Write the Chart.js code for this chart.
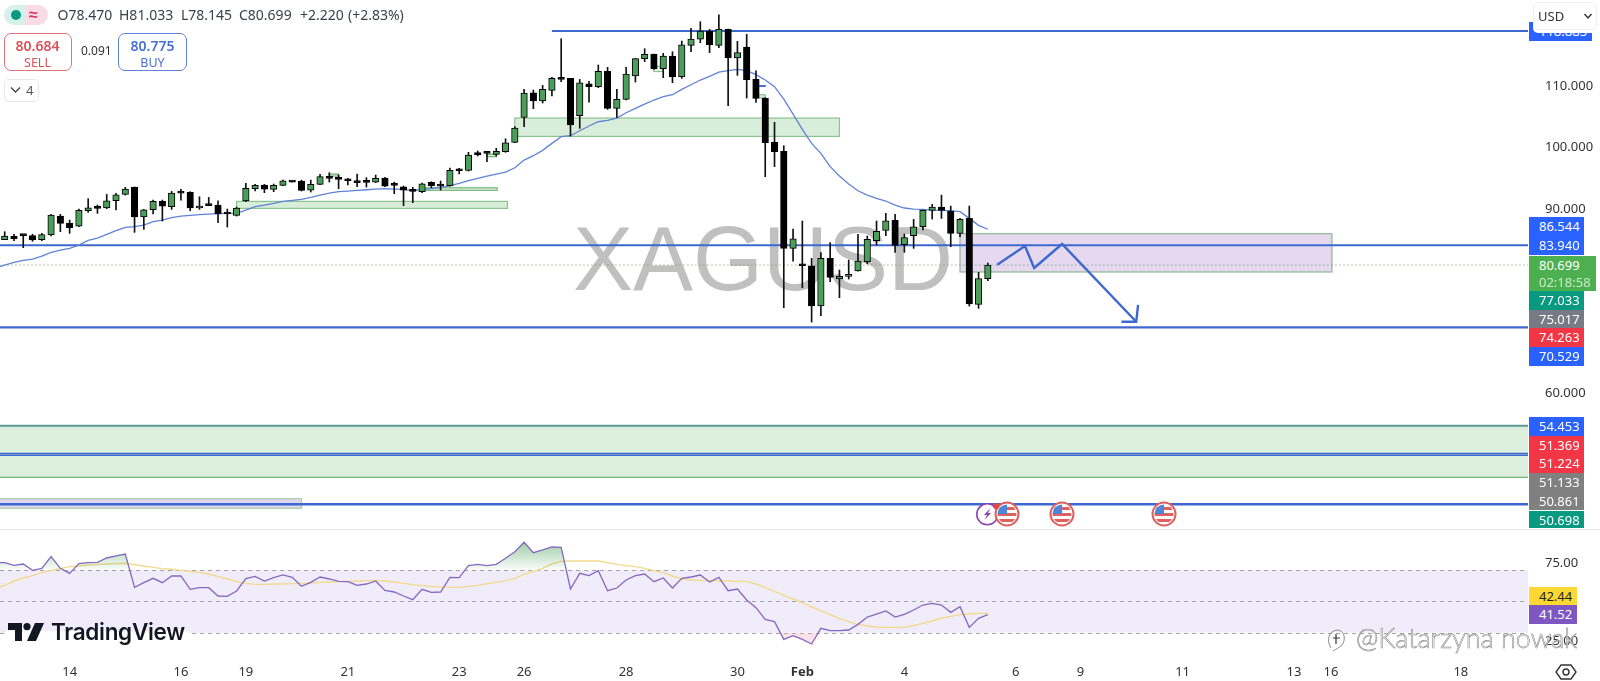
<!DOCTYPE html>
<html>
<head>
<meta charset="utf-8">
<title>XAGUSD</title>
<script src="https://cdn.jsdelivr.net/npm/chart.js@4"></script>
<style>
    html, body { margin: 0; padding: 0; background: #fff; overflow: hidden; }
    body { width: 1600px; height: 681px; position: relative; font-family: "Noto Sans", sans-serif; color: #333; }
    canvas { position: absolute; left: 0; }
    #mainChart { top: 0; }
    #rsiChart { top: 529px; }
    .abs { position: absolute; white-space: nowrap; }
    #symbol { left: 573px; top: 208px; font: 90px "Liberation Sans", sans-serif; color: #c0c0c0; line-height: 103px; }
    #separator { left: 0; top: 529px; width: 1600px; height: 1px; background: #e6e6e6; }
    .ohlc { top: 5px; font-size: 14px; line-height: 20px; color: #3c404c; }
    .box { box-sizing: border-box; background: #fff; text-align: center; }
    .box b { display: block; font-size: 14px; line-height: 19px; margin-top: 2px; font-weight: 600; }
    .box span { display: block; font-size: 12.5px; line-height: 15px; }
    .tag { left: 1529px; width: 55px; height: 18.7px; line-height: 18.7px; color: #fff; font-size: 13px; padding-left: 10px; box-sizing: border-box; }
    #logoText { left: 51px; top: 617px; font: 600 22.5px/30px Inter, sans-serif; color: #131722; letter-spacing: -0.3px; }
    #credit { left: 1356px; top: 621px; font: 300 27px/34px Lato, sans-serif; color: #fff; -webkit-text-stroke: 0.6px #8c8c8c; }
</style>
</head>
<body>
<div class="abs" id="symbol">XAGUSD</div>
<canvas id="mainChart" width="1600" height="529"></canvas>
<canvas id="rsiChart" width="1600" height="152"></canvas>
<div class="abs" id="separator"></div>

<div class="abs" style="left:4px;top:4.5px;width:22px;height:20px;background:#d6f0ea;border-radius:10px 0 0 10px"></div>
<div class="abs" style="left:26px;top:4.5px;width:22px;height:20px;background:#fbdbe6;border-radius:0 10px 10px 0"></div>
<div class="abs" style="left:11px;top:9.5px;width:10px;height:10px;background:#089981;border-radius:50%"></div>
<div class="abs" style="left:29px;top:3px;font-size:16px;line-height:22px;font-weight:700;color:#d8326f">≈</div>
<div class="abs ohlc" style="left:57.5px">O78.470</div>
<div class="abs ohlc" style="left:119px">H81.033</div>
<div class="abs ohlc" style="left:181px">L78.145</div>
<div class="abs ohlc" style="left:239px">C80.699</div>
<div class="abs ohlc" style="left:300px">+2.220</div>
<div class="abs ohlc" style="left:348px">(+2.83%)</div>

<div class="abs box" style="left:3.5px;top:32.5px;width:68px;height:38px;border:1px solid #e0747c;border-radius:7px;color:#d9505a"><b>80.684</b><span>SELL</span></div>
<div class="abs" style="left:81px;top:43px;font-size:12px;line-height:16px">0.091</div>
<div class="abs box" style="left:118px;top:32.5px;width:69px;height:38px;border:1px solid #5f82d8;border-radius:7px;color:#4a6fd4"><b>80.775</b><span>BUY</span></div>

<div class="abs" style="left:3.5px;top:78.5px;width:35px;height:23px;box-sizing:border-box;border:1px solid #e8e8e8;border-radius:4px"></div>
<svg class="abs" style="left:10px;top:86px" width="12" height="8"><path d="M1 1.5 L5.5 6 L10 1.5" fill="none" stroke="#444" stroke-width="1.3"/></svg>
<div class="abs" style="left:26px;top:80px;font-size:13px;line-height:20px;color:#555">4</div>

<div class="abs" style="left:6px;top:631px;width:182px;height:4px;background:#fff"></div>
<svg class="abs" style="left:8px;top:623px" width="36" height="18" viewBox="0 0 36 18">
    <path d="M0 0h14v18H7V7H0z" fill="#131722"/><circle cx="19" cy="3.6" r="3.6" fill="#131722"/><path d="M27 0h9l-8 18h-9z" fill="#131722"/>
</svg>
<div class="abs" id="logoText">TradingView</div>

<svg class="abs" style="left:975px;top:500px" width="40" height="30">
    <circle cx="12.3" cy="14.3" r="10.5" fill="#fff" stroke="#8e44ad" stroke-width="1.6"/>
    <path d="M15.5 8 L9 15 L12 15 L9.5 20 L16 13 L13 13 Z" fill="#8e44ad"/>
</svg>
<div id="flags"></div>
<div class="abs" style="left:993px;top:503px;width:6px;height:6px;border-radius:50%;background:#e04848;z-index:2"></div>

<div class="abs" style="left:1327px;top:628px;width:18px;height:18px">
    <svg width="20" height="24"><path d="M4 20 C-1 12 2 3 10 2 C18 2 19 12 15 17 C12 20 9 21 6 23" fill="none" stroke="#8c8c8c" stroke-width="1"/><path d="M6 10 H13 M9 6 V16" fill="none" stroke="#333" stroke-width="1.2"/></svg>
</div>
<div class="abs" id="credit">@Katarzyna nowak</div>

<svg class="abs" style="left:1555px;top:663px" width="22" height="18">
    <path d="M6 2 H16 L21 9 L16 16 H6 L1 9 Z" fill="none" stroke="#333" stroke-width="1.4"/><circle cx="11" cy="9" r="3" fill="none" stroke="#333" stroke-width="1.4"/>
</svg>

<script>
// candles, oldest first
const highs = [
    86.14, 85.71, 85.60, 85.71, 85.87, 88.96, 88.96, 88.04, 89.83, 91.52,
    90.49, 92.22, 92.39, 93.37, 93.42, 89.78, 91.30, 91.30, 92.71, 93.04,
    92.66, 91.84, 91.73, 91.19, 89.83, 90.16, 94.02, 93.85, 93.85, 93.91,
    94.56, 94.40, 94.56, 94.56, 95.49, 95.76, 95.38, 94.84, 95.54, 94.95,
    95.38, 95.00, 94.23, 93.58, 93.37, 94.07, 94.29, 94.40, 96.52, 96.47,
    99.08, 99.30, 99.03, 99.73, 101.30, 103.26, 109.35, 109.24, 110.00, 111.30,
    117.61, 111.14, 110.97, 110.65, 113.32, 112.94, 109.35, 112.94, 114.40, 115.98,
    115.11, 115.22, 115.49, 117.23, 119.29, 120.38, 119.13, 121.52, 119.18, 117.18,
    118.32, 112.39, 107.99, 103.97, 100.16, 86.57, 87.88, 81.79, 82.72, 84.35,
    79.89, 81.52, 85.71, 85.43, 87.88, 89.13, 88.96, 85.76, 88.15, 89.67,
    90.59, 92.11, 90.32, 88.31, 90.32, 79.51, 81.033
];
const opens = [
    84.84, 85.38, 85.60, 85.49, 84.84, 85.60, 88.69, 87.55, 87.06, 89.56,
    90.10, 90.00, 91.19, 92.22, 93.42, 88.53, 89.72, 91.08, 90.21, 92.55,
    92.55, 90.00, 90.43, 90.49, 89.13, 88.80, 91.14, 93.15, 93.75, 93.04,
    93.69, 94.40, 94.40, 92.93, 93.85, 95.16, 94.84, 94.56, 94.45, 94.34,
    94.23, 94.89, 93.80, 93.47, 93.04, 92.66, 94.18, 93.75, 93.64, 96.19,
    96.14, 99.03, 98.97, 98.75, 99.19, 100.71, 104.78, 108.80, 107.45, 109.19,
    111.08, 111.14, 105.05, 110.27, 109.78, 112.28, 106.25, 107.72, 111.52, 114.35,
    115.05, 112.72, 114.78, 111.41, 116.52, 117.55, 118.86, 116.52, 119.13, 114.46,
    116.25, 110.97, 107.88, 100.71, 99.24, 83.42, 80.70, 80.59, 74.02, 81.79,
    78.42, 78.86, 79.75, 81.27, 84.67, 86.35, 87.99, 84.02, 85.49, 86.95,
    89.62, 90.16, 89.45, 85.87, 88.31, 74.29, 78.47
];
const closes = [
    85.43, 85.00, 85.49, 84.78, 85.65, 88.85, 87.50, 86.79, 89.62, 90.05,
    89.94, 91.19, 92.17, 93.09, 88.53, 89.72, 91.08, 90.32, 92.44, 92.44,
    90.00, 90.32, 90.38, 89.02, 89.02, 90.00, 93.20, 93.69, 93.09, 93.69,
    94.45, 94.23, 92.88, 93.85, 95.11, 94.84, 94.67, 94.45, 94.13, 94.18,
    94.84, 93.58, 93.69, 92.93, 92.71, 93.96, 93.64, 93.58, 96.14, 96.08,
    98.65, 98.65, 98.92, 99.24, 100.65, 103.04, 108.75, 107.45, 109.35, 111.14,
    110.97, 103.53, 110.43, 109.78, 112.28, 106.25, 107.72, 111.85, 114.35, 115.05,
    112.72, 114.78, 111.36, 116.63, 117.55, 118.86, 116.63, 119.13, 114.46, 115.33,
    110.92, 107.88, 100.65, 99.19, 83.42, 84.99, 80.59, 74.02, 81.79, 78.69,
    78.86, 79.18, 81.33, 84.89, 86.20, 87.93, 83.91, 85.17, 86.95, 89.62,
    90.16, 89.62, 85.87, 88.15, 74.35, 78.48, 80.699
];
const lows = [
    84.84, 84.67, 83.53, 84.57, 84.67, 85.43, 86.14, 85.87, 86.95, 89.29,
    89.13, 89.89, 89.67, 92.11, 86.03, 86.52, 89.02, 87.88, 89.78, 91.30,
    89.56, 89.78, 90.38, 87.60, 86.90, 88.69, 91.03, 92.77, 92.50, 92.66,
    93.64, 94.23, 92.77, 92.61, 93.80, 94.23, 93.15, 93.75, 93.47, 93.42,
    94.13, 93.47, 92.33, 90.38, 90.87, 92.50, 93.31, 92.93, 93.58, 95.54,
    96.03, 98.48, 97.57, 98.48, 99.08, 100.65, 103.26, 106.20, 107.12, 108.27,
    110.59, 101.73, 102.99, 107.28, 109.62, 106.09, 104.78, 107.61, 110.54, 113.86,
    112.61, 111.25, 110.43, 111.14, 115.49, 116.96, 115.33, 116.14, 106.68, 111.63,
    107.93, 107.23, 95.11, 96.74, 73.75, 81.35, 77.01, 71.41, 72.45, 77.98,
    75.38, 78.42, 79.70, 80.89, 83.96, 85.49, 82.77, 82.77, 83.42, 86.41,
    88.20, 88.31, 83.69, 85.33, 74.02, 73.64, 78.145
];
const emaValues = [
    80.70, 81.14, 81.46, 81.68, 82.17, 82.77, 83.15, 83.42, 83.96, 84.72,
    85.10, 85.70, 86.30, 86.84, 86.95, 87.22, 87.77, 88.04, 88.42, 88.69,
    88.80, 88.91, 89.02, 89.07, 89.13, 89.13, 89.67, 90.21, 90.48, 90.76,
    91.08, 91.25, 91.41, 91.73, 92.11, 92.44, 92.66, 92.77, 92.88, 92.98,
    93.09, 93.15, 93.09, 93.04, 92.82, 93.04, 93.15, 93.31, 93.64, 94.02,
    94.45, 94.83, 95.21, 95.54, 95.87, 96.57, 97.82, 98.53, 99.40, 100.54,
    101.63, 101.79, 102.60, 103.37, 104.07, 104.29, 104.67, 105.54, 106.25, 106.95,
    107.61, 108.15, 108.47, 109.34, 110.10, 110.87, 111.46, 112.17, 112.39, 112.60,
    112.39, 111.74, 110.87, 109.78, 107.77, 105.32, 102.82, 100.54, 98.91, 96.74,
    95.21, 93.91, 92.82, 92.11, 91.57, 91.14, 90.48, 90.00, 89.83, 89.78,
    89.67, 89.62, 89.56, 89.40, 88.31, 87.17, 86.54
];
const rsiValues = [
    74.68, 72.98, 73.83, 69.79, 71.06, 78.51, 71.06, 67.87, 74.04, 74.68,
    74.89, 77.66, 78.94, 80.21, 58.94, 61.91, 64.68, 61.91, 66.17, 66.17,
    57.66, 58.72, 58.72, 53.40, 53.19, 56.60, 64.47, 65.96, 62.98, 65.11,
    66.81, 65.32, 59.57, 62.13, 65.53, 64.26, 62.77, 62.55, 60.21, 61.06,
    62.98, 57.02, 55.96, 53.40, 51.06, 57.66, 55.74, 55.96, 65.32, 65.11,
    72.77, 73.62, 72.77, 73.62, 77.45, 81.70, 87.66, 81.06, 82.77, 84.68,
    84.47, 57.87, 67.87, 66.38, 69.57, 56.81, 58.51, 63.62, 66.38, 67.45,
    62.55, 64.89, 58.51, 64.68, 65.53, 66.81, 62.34, 65.32, 56.81, 57.87,
    50.85, 45.96, 38.51, 37.02, 25.74, 28.09, 25.74, 22.77, 32.77, 31.28,
    31.28, 31.70, 35.32, 40.00, 41.91, 43.83, 40.00, 41.70, 44.47, 47.66,
    48.72, 47.66, 42.98, 46.60, 33.40, 39.15, 41.52
];
const rsiMaValues = [
    60.21, 62.98, 64.89, 66.38, 68.30, 69.79, 70.85, 72.13, 72.55, 73.19,
    73.40, 73.83, 74.04, 74.26, 73.40, 72.55, 71.70, 70.85, 70.43, 69.79,
    69.15, 68.51, 67.45, 65.74, 64.26, 62.55, 61.49, 60.85, 60.85, 61.06,
    61.06, 61.28, 61.28, 61.70, 62.13, 62.34, 62.55, 62.77, 62.98, 63.19,
    63.40, 62.98, 62.34, 61.49, 60.64, 60.00, 59.57, 59.15, 58.94, 58.94,
    59.57, 60.21, 61.28, 62.13, 63.19, 64.68, 67.23, 68.94, 71.06, 73.83,
    75.53, 75.74, 75.74, 75.74, 75.74, 74.68, 73.62, 72.77, 72.13, 71.06,
    69.57, 68.30, 66.17, 64.26, 63.62, 63.40, 63.19, 62.98, 62.98, 62.77,
    62.55, 61.06, 58.72, 56.38, 53.83, 51.49, 49.15, 46.38, 44.04, 41.49,
    38.94, 37.02, 35.32, 34.26, 33.62, 33.40, 33.40, 33.40, 34.68, 35.96,
    37.45, 39.36, 40.43, 41.49, 41.91, 42.34, 42.44
];
// the lines carry on past the left edge, one bar before the first candle
const emaBefore = 80.25;
const rsiBefore = 74.68;
const rsiMaBefore = 58.4;

// axes
const priceTicks = [110, 100, 90, 60];
const rsiTicks = [75, 25];
const timeTickIndex = [7, 19, 26, 37, 49, 56, 67, 79, 86, 97, 109, 116, 127, 139, 143, 157];
const timeTickLabels = ['14', '16', '19', '21', '23', '26', '28', '30', 'Feb', '4', '6', '9', '11', '13', '16', '18'];

// drawn levels and boxes, in candle index and price
const levelPrices = [118.885, 83.94, 70.529, 49.98, 49.69, 41.69, 54.5];
const levelStarts = [59, -1, -1, -1, -1, -1, -1];
const zoneStarts = [-1, -1, 55, 25, 45, 103, 35, 52, 70, 81, 81];
const zoneEnds = [170, 32, 90, 54.2, 53.1, 143.1, 36, 53, 71, 82, 82];
const zoneTops = [54.5, 42.6, 104.67, 91.08, 93.31, 85.81, 95.54, 98.75, 113.1, 108.47, 109.95];
const zoneBottoms = [46.09, 41.03, 101.68, 89.94, 92.88, 79.57, 95.21, 98.37, 112.26, 107.99, 109.85];
const pathIndex = [107, 110, 111, 114, 122];
const pathPrices = [80.76, 83.81, 80.22, 84.13, 71.46];
const arrowHeadIndex = [122.2, 122, 120.4];
const arrowHeadPrices = [74.19, 71.46, 71.46];
const lastPrice = 80.699;

// price tags on the right, top to bottom
const mainTags = ['86.544', '83.940', '77.033', '75.017', '74.263', '70.529', '54.453', '51.369', '51.224', '51.133', '50.861', '50.698'];
const rsiTags = ['42.44', '41.52'];

// scale limits picked so the price and rsi panes line up with the screenshot
const X_MIN = -0.507, X_MAX = 164.24;

function addTag(text, top, bg, extra) {
    const el = document.createElement('div');
    el.className = 'abs tag';
    el.style.top = top + 'px';
    el.style.background = bg;
    el.textContent = text;
    if (extra) Object.assign(el.style, extra);
    document.body.appendChild(el);
    return el;
}

function addFlag(cx) {
    const el = document.createElement('div');
    el.className = 'abs';
    el.style.left = (cx - 13) + 'px';
    el.style.top = '501px';
    el.innerHTML = '<svg width="26" height="26"><defs><clipPath id="f' + cx + '"><circle cx="13" cy="13" r="9.5"/></clipPath></defs>'
        + '<circle cx="13" cy="13" r="11.5" fill="#fff" stroke="#e0605f" stroke-width="2"/>'
        + '<g clip-path="url(#f' + cx + ')"><rect x="3" y="3" width="20" height="20" fill="#fff"/>'
        + '<rect x="3" y="6" width="20" height="3" fill="#e0605f"/><rect x="3" y="12" width="20" height="3" fill="#e0605f"/><rect x="3" y="18" width="20" height="3" fill="#e0605f"/>'
        + '<rect x="3" y="3" width="10" height="10" fill="#4f86d9"/></g></svg>';
    document.getElementById('flags').appendChild(el);
}

// level boxes go under the candles
const zonePlugin = {
    id: 'zones',
    beforeDatasetsDraw(chart) {
        const { ctx, scales: { x, y }, chartArea } = chart;
        const fills = ['#dcefdc', '#ded6ee', '#d9eeda', '#d9eeda', '#cfe8d0', '#e6d8ef', '#e4f3e4', '#e4f3e4', '#e4f3e4', '#d9eeda', '#3c68d0'];
        const edges = ['#6cad71', '#a9cfaa', '#8cc38f', '#8cc38f', '#7fbb83', '#8fb893', '#6cad71', '#6cad71', '#8cc38f', '#8cc38f', '#3c68d0'];
        ctx.save();
        ctx.beginPath();
        ctx.rect(chartArea.left, chartArea.top, chartArea.width, chartArea.height);
        ctx.clip();
        zoneStarts.forEach((start, i) => {
            const left = x.getPixelForValue(start);
            const right = x.getPixelForValue(zoneEnds[i]);
            const top = y.getPixelForValue(zoneTops[i]);
            const bottom = y.getPixelForValue(zoneBottoms[i]);
            ctx.fillStyle = fills[i];
            ctx.strokeStyle = edges[i];
            ctx.lineWidth = 1.2;
            ctx.fillRect(left, top, right - left, bottom - top);
            ctx.strokeRect(left, top, right - left, bottom - top);
        });
        ctx.restore();
    }
};

// rsi band and dashed 70/50/30 lines
const bandPlugin = {
    id: 'band',
    beforeDatasetsDraw(chart) {
        const { ctx, scales: { y }, chartArea } = chart;
        const y70 = y.getPixelForValue(70);
        const y30 = y.getPixelForValue(30);
        ctx.save();
        ctx.fillStyle = '#f0ecfa';
        ctx.fillRect(chartArea.left, y70, chartArea.width, y30 - y70);
        ctx.strokeStyle = '#a3a3a8';
        ctx.lineWidth = 1;
        ctx.setLineDash([4, 4]);
        [70, 50, 30].forEach(v => {
            const p = Math.round(y.getPixelForValue(v)) + 0.5;
            ctx.beginPath();
            ctx.moveTo(chartArea.left, p);
            ctx.lineTo(chartArea.right, p);
            ctx.stroke();
        });
        ctx.restore();
    }
};

function pairs(xs, ys) {
    return xs.map((x, i) => ({ x, y: ys[i] }));
}

function lineFrom(before, values) {
    return [{ x: -1, y: before }, ...values.map((y, x) => ({ x, y }))];
}

// stop the axes reserving room for half a label above and below the plot
function noScalePadding(scale) {
    scale.paddingTop = 0;
    scale.paddingBottom = 0;
    scale.paddingLeft = 0;
    scale.paddingRight = 0;
}

document.addEventListener('DOMContentLoaded', () => {

    Chart.defaults.font.family = '"Noto Sans", sans-serif';
    Chart.defaults.font.size = 13;
    Chart.defaults.color = '#333';

    const candleFill = closes.map((c, i) => c >= opens[i] ? '#4c9f5a' : '#000');
    const levelColors = ['#3c68d0', '#3c68d0', '#3c68d0', '#3c68d0', '#3c68d0', '#3c68d0', '#5f9a98'];
    const levelWidths = [2, 2, 2.2, 1.4, 1.4, 2.5, 1.8];

    const levelSets = levelPrices.map((price, i) => ({
        type: 'line',
        data: [{ x: levelStarts[i], y: price }, { x: 170, y: price }],
        borderColor: levelColors[i],
        borderWidth: levelWidths[i],
        pointRadius: 0,
        order: 6
    }));

    new Chart(document.getElementById('mainChart'), {
        type: 'bar',
        data: {
            datasets: [
                {
                    data: opens.map((o, i) => ({ x: i, y: [o, closes[i]] })),
                    backgroundColor: candleFill,
                    borderColor: '#000',
                    borderWidth: 1,
                    borderSkipped: false,
                    barThickness: 6.5,
                    grouped: false,
                    minBarLength: 2,
                    order: 2
                },
                {
                    data: lows.map((l, i) => ({ x: i, y: [l, highs[i]] })),
                    backgroundColor: '#111',
                    barThickness: 1,
                    grouped: false,
                    order: 3
                },
                {
                    type: 'line',
                    data: lineFrom(emaBefore, emaValues),
                    borderColor: '#5f83d6',
                    borderWidth: 1.3,
                    pointRadius: 0,
                    order: 4
                },
                {
                    type: 'line',
                    data: [{ x: -1, y: lastPrice }, { x: 170, y: lastPrice }],
                    borderColor: '#5d9a66',
                    borderWidth: 1,
                    borderDash: [1, 3],
                    pointRadius: 0,
                    order: 5
                },
                ...levelSets,
                {
                    type: 'line',
                    data: pairs(pathIndex, pathPrices),
                    borderColor: '#3c68d0',
                    borderWidth: 2.4,
                    pointRadius: 0,
                    order: 1
                },
                {
                    type: 'line',
                    data: pairs(arrowHeadIndex, arrowHeadPrices),
                    borderColor: '#3c68d0',
                    borderWidth: 2.4,
                    pointRadius: 0,
                    order: 1
                }
            ]
        },
        options: {
            responsive: false,
            animation: false,
            layout: { padding: 0, autoPadding: false },
            plugins: { legend: { display: false }, tooltip: { enabled: false } },
            scales: {
                x: {
                    type: 'linear',
                    min: X_MIN,
                    max: X_MAX,
                    offset: false,
                    display: false,
                    grid: { display: false }
                },
                y: {
                    position: 'right',
                    min: 37.66,
                    max: 123.92,
                    grid: { display: false },
                    border: { display: false },
                    afterFit(scale) { scale.width = 72; noScalePadding(scale); },
                    afterBuildTicks(scale) { scale.ticks = priceTicks.map(value => ({ value })); },
                    ticks: { padding: 9, labelOffset: 1, callback: v => v.toFixed(3) }
                }
            }
        },
        plugins: [zonePlugin]
    });

    const rsiChart = new Chart(document.getElementById('rsiChart'), {
        type: 'line',
        data: {
            datasets: [
                {
                    data: lineFrom(rsiBefore, rsiValues),
                    borderColor: '#8468c0',
                    borderWidth: 1.3,
                    pointRadius: 0,
                    fill: { target: { value: 70 }, above: 'rgba(76,175,80,0.3)', below: 'transparent' },
                    order: 1
                },
                {
                    data: lineFrom(rsiBefore, rsiValues),
                    borderWidth: 0,
                    pointRadius: 0,
                    fill: { target: { value: 30 }, above: 'transparent', below: 'rgba(244,170,190,0.35)' },
                    order: 3
                },
                {
                    data: lineFrom(rsiMaBefore, rsiMaValues),
                    borderColor: '#f3d98c',
                    borderWidth: 1.4,
                    pointRadius: 0,
                    order: 2
                }
            ]
        },
        options: {
            responsive: false,
            animation: false,
            layout: { padding: 0, autoPadding: false },
            plugins: { legend: { display: false }, tooltip: { enabled: false } },
            scales: {
                x: {
                    type: 'linear',
                    min: X_MIN,
                    max: X_MAX,
                    grid: { display: false, drawTicks: false },
                    border: { display: false },
                    afterFit(scale) { scale.height = 29; noScalePadding(scale); },
                    afterBuildTicks(scale) { scale.ticks = timeTickIndex.map(value => ({ value })); },
                    ticks: {
                        autoSkip: false,
                        maxRotation: 0,
                        padding: 12,
                        callback: v => timeTickLabels[timeTickIndex.indexOf(v)],
                        font: ctx => ({ size: 13, weight: ctx.tick && ctx.tick.value === 86 ? '700' : '400' })
                    }
                },
                y: {
                    position: 'right',
                    min: 17.67,
                    max: 96.16,
                    grid: { display: false },
                    border: { display: false },
                    afterFit(scale) { scale.width = 72; noScalePadding(scale); },
                    afterBuildTicks(scale) { scale.ticks = rsiTicks.map(value => ({ value })); },
                    ticks: { padding: 9, labelOffset: 1, callback: v => v.toFixed(2) }
                }
            }
        },
        plugins: [bandPlugin]
    });

    // green overbought fill fades towards the 70 line
    const yAxis = rsiChart.scales.y;
    const fade = rsiChart.ctx.createLinearGradient(0, yAxis.getPixelForValue(88), 0, yAxis.getPixelForValue(70));
    fade.addColorStop(0, 'rgba(76,165,90,0.55)');
    fade.addColorStop(1, 'rgba(76,165,90,0.03)');
    rsiChart.data.datasets[0].fill.above = fade;
    rsiChart.update('none');

    // right side tags
    const BLUE = '#2962ff', RED = '#f23645', GREY = '#808080';
    const rowTop = 217.3, rowH = 18.7;
    addTag(mainTags[0], rowTop, BLUE);
    addTag(mainTags[1], rowTop + rowH, BLUE);
    addTag(mainTags[2], 291, '#089981');
    addTag(mainTags[3], 291 + rowH, '#787b86');
    addTag(mainTags[4], 291 + rowH * 2, RED);
    addTag(mainTags[5], 291 + rowH * 3, BLUE);
    addTag(mainTags[6], 417, BLUE);
    addTag(mainTags[7], 417 + rowH, RED);
    addTag(mainTags[8], 417 + rowH * 2, RED);
    addTag(mainTags[9], 417 + rowH * 3, GREY);
    addTag(mainTags[10], 417 + rowH * 4, GREY);
    addTag(mainTags[11], 417 + rowH * 5, '#089981', { height: '17px', lineHeight: '18px' });
    addTag('118.885', 22, BLUE, { width: '63px', lineHeight: '18px' });
    addTag('80.699', 256, '#4caf50', { width: '67px', height: '35px', lineHeight: '18px' });
    addTag('02:18:58', 273, 'transparent', { width: '67px', color: '#c8ecc9' });
    addTag(rsiTags[0], 586.7, '#fdd835', { width: '48px', color: '#222' });
    addTag(rsiTags[1], 605.4, '#7e57c2', { width: '48px' });

    // currency button sits over the clipped tag
    const usd = document.createElement('div');
    usd.className = 'abs';
    Object.assign(usd.style, { left: '1533px', top: '1.5px', width: '64px', height: '28px', background: '#fff', border: '1px solid #eee', borderRadius: '5px', boxSizing: 'border-box', fontSize: '13px', lineHeight: '26px', paddingLeft: '4px', boxShadow: '0 3px 0 #fff' });
    usd.innerHTML = 'USD<svg style="position:absolute;right:3px;top:10px" width="10" height="7"><path d="M1.5 1 L5 5 L8.5 1" fill="none" stroke="#333" stroke-width="1.4"/></svg>';
    document.body.appendChild(usd);

    [1006.7, 1062.3, 1164.3].forEach(addFlag);
});
</script>
</body>
</html>
